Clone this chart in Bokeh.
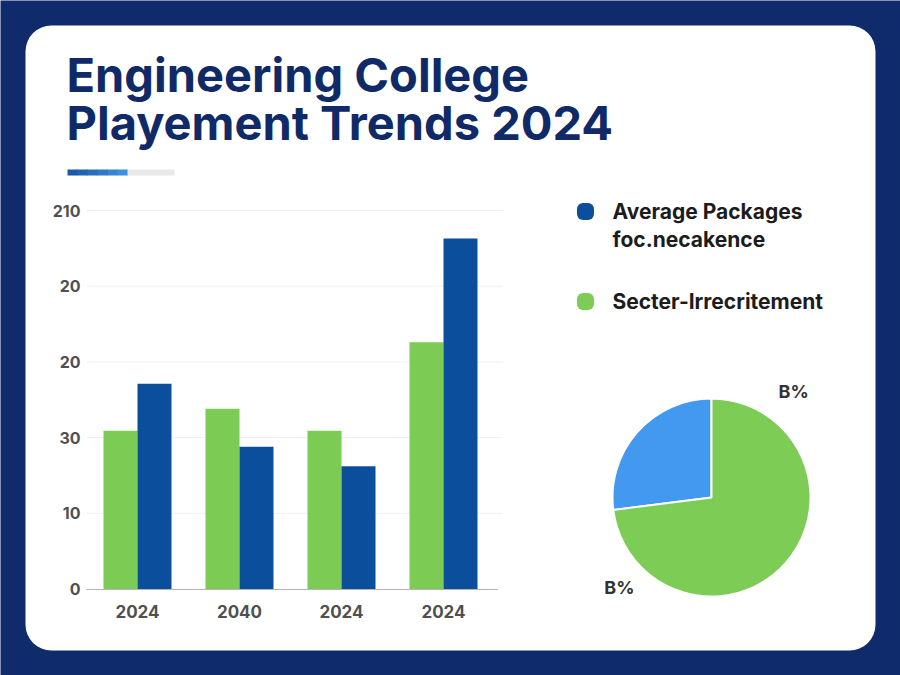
import numpy as np
from bokeh.plotting import figure
from bokeh.models import Range1d, Label, FixedTicker
from bokeh.embed import file_html
from bokeh.resources import INLINE

# ---- data ----
categories = ["2024", "2040", "2024", "2024"]
green_values = [20.9, 23.8, 20.9, 32.6]   # Secter-Irrecritement
blue_values = [27.1, 18.8, 16.2, 46.3]    # Average Packages
y_tick_values = [0, 10, 20, 30, 40, 50]
y_tick_labels = ["0", "10", "30", "20", "20", "210"]
pie_shares = [27, 73]                      # blue slice, green slice
pie_labels = ["B%", "B%"]
legend_lines = [["Average Packages", "foc.necakence"], ["Secter-Irrecritement"]]

# ---- styling ----
NAVY = "#0f2b6b"
TITLE = "#0f2a66"
BAR_GREEN = "#7ccb54"
BAR_BLUE = "#0b4f9c"
PIE_BLUE = "#4399f0"
PIE_GREEN = "#7dcc55"
FONT = "Inter"
W, H = 900, 675

# The frame fills the whole canvas; the bar chart's own ranges place its
# origin at (86, 588.5) px with 102 px per category and 7.57 px per unit.
X0_PX, Y0_PX, PX_PER_CAT, PX_PER_UNIT = 86, 588.5, 102, 7.57
p = figure(width=W, height=H, output_backend="svg", toolbar_location=None,
           x_range=Range1d(-X0_PX / PX_PER_CAT, (W - X0_PX) / PX_PER_CAT),
           y_range=Range1d(-(H - Y0_PX) / PX_PER_UNIT, Y0_PX / PX_PER_UNIT),
           min_border=0, title=None)
p.border_fill_color = NAVY
p.background_fill_color = NAVY
p.outline_line_color = None
p.grid.visible = False

# pixel-space range for the page furniture (y grows downward)
p.extra_x_ranges = {"px": Range1d(0, W), "pie": Range1d((0 - 711) / 99, (W - 711) / 99)}
p.extra_y_ranges = {"px": Range1d(H, 0), "pie": Range1d((497 - H) / 99, 497 / 99)}
PX = dict(x_range_name="px", y_range_name="px")

# white card
p.quad(left=[25], right=[875], top=[25], bottom=[650], fill_color="white",
       line_color=None, border_radius=26, **PX)

# axes drawn at the bar chart's origin
n = len(categories)
centers = [i + 0.5 for i in range(n)]
p.xaxis.fixed_location = 0
p.yaxis.fixed_location = 0
p.xaxis.ticker = FixedTicker(ticks=centers)
p.xaxis.major_label_overrides = {c: lab for c, lab in zip(centers, categories)}
p.xaxis.bounds = (0, n + 0.03)
p.yaxis.ticker = FixedTicker(ticks=y_tick_values)
p.yaxis.major_label_overrides = {v: lab for v, lab in zip(y_tick_values, y_tick_labels)}
for ax in (p.xaxis, p.yaxis):
    ax.major_tick_line_color = None
    ax.minor_tick_line_color = None
    ax.major_tick_out = 0
    ax.major_tick_in = 0
    ax.major_label_text_font = FONT
    ax.major_label_text_font_style = "bold"
    ax.major_label_text_color = "#505050"
p.xaxis.axis_line_color = "#b5b5b5"
p.xaxis.axis_line_width = 1.2
p.yaxis.axis_line_color = None
p.xaxis.major_label_text_font_size = "17px"
p.xaxis.major_label_standoff = 16
p.yaxis.major_label_text_font_size = "16px"
p.yaxis.major_label_standoff = 6

# faint gridlines across the bar area
p.segment(x0=0, x1=n + 0.08, y0=y_tick_values[1:], y1=y_tick_values[1:],
          line_color="#f0f0f0", line_width=1)

# grouped bars
bw = 1 / 3
p.vbar(x=[c - bw / 2 for c in centers], top=green_values, width=bw,
       fill_color=BAR_GREEN, line_color=None)
p.vbar(x=[c + bw / 2 for c in centers], top=blue_values, width=bw,
       fill_color=BAR_BLUE, line_color=None)

# pie (unit radius on its own ranges)
shares = np.array(pie_shares, dtype=float)
cum = np.concatenate([[0], np.cumsum(shares / shares.sum())]) * 2 * np.pi + np.pi / 2
p.wedge(x=0, y=0, radius=1, start_angle=cum[:-1], end_angle=cum[1:],
        fill_color=[PIE_BLUE, PIE_GREEN], line_color="white", line_width=2,
        x_range_name="pie", y_range_name="pie")
for (lx, ly), txt in zip([(0.83, 1.07), (-0.93, -0.91)], pie_labels):
    p.add_layout(Label(x=lx, y=ly, text=txt, x_range_name="pie", y_range_name="pie",
                       text_align="center", text_baseline="middle",
                       text_font=FONT, text_font_style="bold",
                       text_font_size="18px", text_color="#333333"))

# title block
for txt, mid in zip(["Engineering College", "Playement Trends 2024"], [74, 122]):
    p.add_layout(Label(x=66, y=mid, x_units="canvas", y_units="canvas", text=txt,
                       text_font=FONT, text_font_style="bold", text_font_size="47px",
                       text_color=TITLE, text_baseline="middle"))
# accent rule: blue gradient segment followed by a light grey segment
steps = 6
edges = np.linspace(67, 127, steps + 1)
c0, c1 = np.array([0x1b, 0x58, 0xa5]), np.array([0x3d, 0x8f, 0xe0])
grad = ["#%02x%02x%02x" % tuple(int(v) for v in c0 + (c1 - c0) * t)
        for t in np.linspace(0, 1, steps)]
p.quad(left=list(edges[:-1]) + [127], right=list(edges[1:] + 0.5) + [174],
       top=[169] * (steps + 1), bottom=[175] * (steps + 1),
       fill_color=grad + ["#e8e8e8"], line_color=None, **PX)

# legend
sw_y = [211, 301]
p.quad(left=[576.5] * 2, right=[593.5] * 2, top=[y - 8.5 for y in sw_y],
       bottom=[y + 8.5 for y in sw_y], fill_color=[BAR_BLUE, PIE_GREEN],
       line_color=None, border_radius=6, **PX)
for cy, lines in zip(sw_y, legend_lines):
    for k, line in enumerate(lines):
        p.add_layout(Label(x=612, y=cy + 28 * k, x_units="canvas", y_units="canvas",
                           text=line, text_font=FONT, text_font_style="bold",
                           text_font_size="21px", text_color="#1c1c1c",
                           text_baseline="middle"))

open("out.html", "w").write(file_html(p, INLINE))
